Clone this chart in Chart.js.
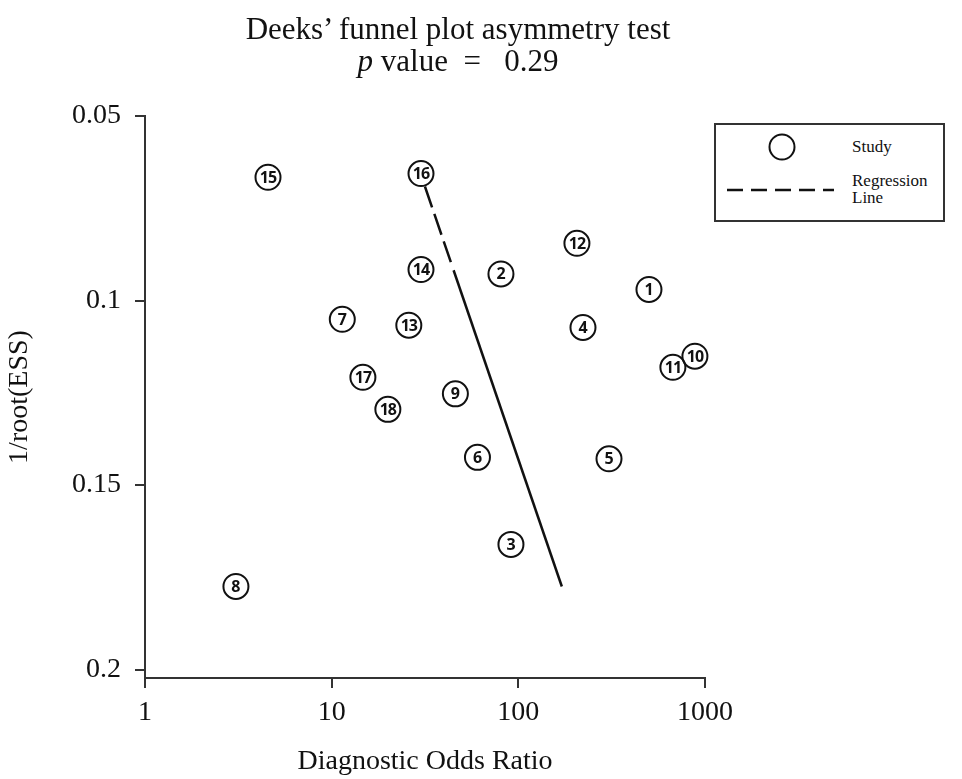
<!DOCTYPE html>
<html>
<head>
<meta charset="utf-8">
<script src="https://cdn.jsdelivr.net/npm/chart.js@4.4.1/dist/chart.umd.min.js"></script>
<style>
  html, body { margin: 0; padding: 0; background: #fff; }
  #wrap { position: relative; width: 962px; height: 779px; overflow: hidden; }
  #chart { position: absolute; left: 0; top: 0; }
  .title {
    position: absolute; left: 0; top: 13px; width: 916px;
    text-align: center; font-family: "Liberation Serif", "Times New Roman", serif;
    font-size: 31px; line-height: 32px; color: #111; white-space: pre;
  }
  .legend {
    position: absolute; left: 714px; top: 123px; width: 231px; height: 99px;
    box-sizing: border-box; border: 2px solid #333; background: #fff;
    font-family: "Liberation Serif", "Times New Roman", serif; font-size: 17px; color: #111;
  }
  .legend svg { position: absolute; left: 0; top: 0; }
  .legend .lbl { position: absolute; left: 136px; line-height: 18px; }
</style>
</head>
<body>
<div id="wrap">
  <canvas id="chart" width="962" height="779"></canvas>
  <div class="title">Deeks’ funnel plot asymmetry test
<i>p</i> value  =   0.29</div>
  <div class="legend">
    <svg width="227" height="95">
      <circle cx="66" cy="22" r="12.5" fill="none" stroke="#111" stroke-width="2"></circle>
      <line x1="11" y1="65" x2="118" y2="65" stroke="#111" stroke-width="2.5" stroke-dasharray="16 8"></line>
    </svg>
    <div class="lbl" style="top:13px">Study</div>
    <div class="lbl" style="top:47px">Regression</div>
    <div class="lbl" style="top:64px">Line</div>
  </div>
</div>
<script>
// study number, diagnostic odds ratio, 1/root(ESS)
const studyIds = [1, 2, 3, 4, 5, 6, 7, 8, 9, 10, 11, 12, 13, 14, 15, 16, 17, 18];
const dor = [501, 80.7, 91.3, 222, 306, 60.4, 11.4, 3.07, 46.0, 883, 673, 206, 25.9, 30.1, 4.56, 30.1, 14.7, 20.0];
const invRootEss = [0.0970, 0.0928, 0.1661, 0.1073, 0.1429, 0.1425, 0.1051, 0.1775, 0.1253, 0.1151,
                    0.1181, 0.0845, 0.1067, 0.0916, 0.0666, 0.0656, 0.1208, 0.1295];

// regression line (dashed top part, then solid)
const regDashX = [31.6, 44.1];
const regDashY = [0.0691, 0.0905];
const regSolidX = [45.0, 171];
const regSolidY = [0.0918, 0.1775];

const xTicks = [1, 10, 100, 1000];
const yTicks = [0.05, 0.1, 0.15, 0.2];

const ink = '#111';
const serif = "'Liberation Serif', 'Times New Roman', serif";

const toPoints = (xs, ys) => xs.map((x, i) => ({ x: x, y: ys[i] }));

const studyLabels = {
  id: 'studyLabels',
  afterDatasetsDraw(chart) {
    const meta = chart.getDatasetMeta(0);
    const ctx = chart.ctx;
    ctx.save();
    ctx.fillStyle = ink;
    ctx.font = "bold 16px 'Open Sans', 'DejaVu Sans', sans-serif";
    ctx.textAlign = 'center';
    ctx.textBaseline = 'middle';
    meta.data.forEach((pt, i) => {
      const txt = String(studyIds[i]);
      ctx.letterSpacing = txt.length > 1 ? '-1px' : '0px';
      ctx.fillText(txt, pt.x, pt.y + 1);
    });
    ctx.restore();
  }
};

new Chart(document.getElementById('chart'), {
  type: 'scatter',
  data: {
    datasets: [
      {
        label: 'Study',
        data: toPoints(dor, invRootEss),
        pointRadius: 12.5,
        pointHoverRadius: 12.5,
        pointBorderWidth: 2,
        pointBorderColor: ink,
        pointBackgroundColor: 'rgba(0,0,0,0)',
        clip: false,
        order: 0
      },
      {
        label: 'Regression dashed',
        type: 'line',
        data: toPoints(regDashX, regDashY),
        borderColor: ink,
        borderWidth: 2.5,
        borderDash: [22, 7],
        pointRadius: 0,
        fill: false,
        order: 1
      },
      {
        label: 'Regression solid',
        type: 'line',
        data: toPoints(regSolidX, regSolidY),
        borderColor: ink,
        borderWidth: 2.5,
        pointRadius: 0,
        fill: false,
        order: 1
      }
    ]
  },
  options: {
    responsive: false,
    animation: false,
    layout: { padding: { top: 116, right: 257, bottom: 0, left: 0 } },
    plugins: {
      legend: { display: false },
      tooltip: { enabled: false },
      title: { display: false }
    },
    scales: {
      x: {
        type: 'logarithmic',
        min: 1,
        max: 1000,
        afterBuildTicks: (scale) => { scale.ticks = xTicks.map(v => ({ value: v })); },
        afterFit: (scale) => { scale.height = 101; },
        ticks: {
          color: ink,
          font: { family: serif, size: 28 },
          padding: 8,
          maxRotation: 0,
          callback: (v) => String(v)
        },
        grid: { drawOnChartArea: false, drawTicks: true, tickLength: 10, color: '#333', lineWidth: 2 },
        border: { display: true, color: '#333', width: 2 },
        title: {
          display: true,
          text: 'Diagnostic Odds Ratio',
          color: ink,
          font: { family: serif, size: 28 },
          padding: { top: 0, bottom: 1 }
        }
      },
      y: {
        type: 'linear',
        reverse: true,
        min: 0.05,
        max: 0.2023,
        afterBuildTicks: (scale) => { scale.ticks = yTicks.map(v => ({ value: v })); },
        afterFit: (scale) => { scale.width = 145; },
        ticks: {
          color: ink,
          font: { family: serif, size: 28 },
          padding: 14,
          callback: (v) => String(v)
        },
        grid: { drawOnChartArea: false, drawTicks: true, tickLength: 10, color: '#333', lineWidth: 2 },
        border: { display: true, color: '#333', width: 2 },
        title: {
          display: true,
          text: '1/root(ESS)',
          color: ink,
          font: { family: serif, size: 28 },
          padding: { top: 3, bottom: 0 }
        }
      }
    }
  },
  plugins: [studyLabels]
});
</script>
</body>
</html>
